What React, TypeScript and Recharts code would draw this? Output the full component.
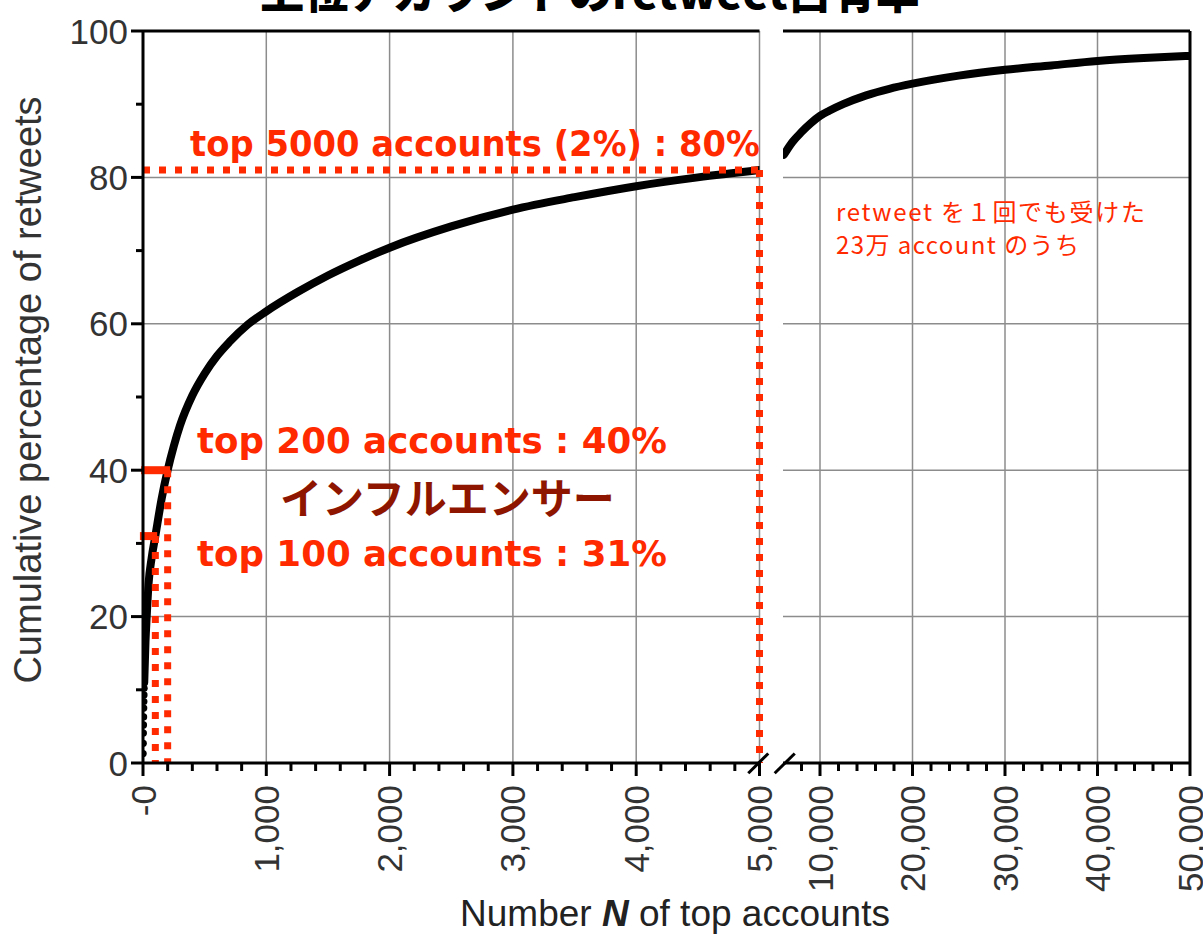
import { ComposedChart, Line, Scatter, XAxis, YAxis, ReferenceLine } from "recharts";

// left panel (0 - 5,000 accounts)
const leftN = [10, 20, 30, 45, 70, 100, 150, 200, 250, 300, 400, 500, 600, 700, 850, 1000, 1250, 1500, 1750, 2000, 2500, 3000, 3500, 4000, 4500, 5000];
const leftPct = [11, 16.5, 20, 24.5, 28, 31, 36, 40, 43.3, 46.1, 50.2, 53.2, 55.6, 57.5, 59.9, 61.7, 64.3, 66.6, 68.6, 70.4, 73.3, 75.6, 77.3, 78.8, 80, 81];

// top few accounts drawn as separate dots
const dotN = [1, 2, 3, 4, 5, 6, 7, 8, 9];
const dotPct = [1.3, 2.7, 4.1, 5.2, 6.3, 7.5, 8.4, 9.3, 10.2];

// right panel (6,000 - 50,000 accounts)
const rightN = [6100, 7000, 8000, 9000, 10000, 11000, 12500, 15000, 17500, 20000, 25000, 30000, 35000, 40000, 45000, 50000];
const rightPct = [83.1, 84.8, 86.2, 87.4, 88.4, 89.1, 90, 91.2, 92.1, 92.8, 93.9, 94.7, 95.3, 95.9, 96.3, 96.6];

const leftTicks = Array.from({ length: 26 }, (_, i) => i * 200);
const rightTicks = Array.from({ length: 22 }, (_, i) => 8000 + i * 2000);
const yTicks = [0, 10, 20, 30, 40, 50, 60, 70, 80, 90, 100];
const yGrid = [20, 40, 60, 80];
const leftGrid = [1000, 2000, 3000, 4000, 5000];
const rightGrid = [10000, 20000, 30000, 40000];

const leftData = leftN.map((n, i) => ({ n, pct: leftPct[i] }));
const dotData = dotN.map((n, i) => ({ n, pct: dotPct[i] }));
const rightData = rightN.map((n, i) => ({ n, pct: rightPct[i] }));

const RED = "#ff2a00";
const GRID = "#8c8c8c";
const TICK_FONT = "'Liberation Sans', Arial, sans-serif";
const JP_FONT = "'Noto Sans CJK JP', sans-serif";
const NOTE_FONT = "'DejaVu Sans', sans-serif";

function XTick(props: any) {
  const { x, y, payload, step } = props;
  const major = payload.value % step === 0;
  const ly = y + 22;
  const label = payload.value === 0 ? "-0" : payload.value.toLocaleString("en-US");
  return (
    <g>
      <line x1={x} y1={y} x2={x} y2={y + (major ? 13 : 8)} stroke="#000" strokeWidth={3} />
      {major && (
        <text
          x={x}
          y={ly}
          transform={`rotate(-90 ${x} ${ly})`}
          textAnchor="end"
          dy="0.36em"
          fontSize={35}
          fontFamily={TICK_FONT}
          fill="#333"
        >
          {label}
        </text>
      )}
    </g>
  );
}

function YTick(props: any) {
  const { x, y, payload } = props;
  const major = payload.value % 20 === 0;
  return (
    <g>
      <line x1={x - (major ? 12 : 7)} y1={y} x2={x} y2={y} stroke="#000" strokeWidth={3} />
      {major && (
        <text x={x - 15} y={y} textAnchor="end" dy="0.36em" fontSize={35} fontFamily={TICK_FONT} fill="#333">
          {payload.value}
        </text>
      )}
    </g>
  );
}

const dotted = { stroke: RED, strokeWidth: 7, strokeDasharray: "7 9", ifOverflow: "visible" as const };

export default function App() {
  return (
    <div style={{ position: "absolute", left: 0, top: 0, width: 1203, height: 938, background: "#fff", overflow: "hidden" }}>
      <div style={{ position: "absolute", left: 0, top: 0 }}>
        <ComposedChart width={780} height={938} margin={{ top: 31, right: 20.5, bottom: 55, left: 0 }}>
          <XAxis
            type="number"
            dataKey="n"
            domain={[0, 5000]}
            ticks={leftTicks}
            height={120}
            tickSize={0}
            tickMargin={0}
            tickLine={false}
            axisLine={{ stroke: "#000", strokeWidth: 3 }}
            tick={<XTick step={1000} />}
            interval={0}
            allowDataOverflow
          />
          <YAxis
            type="number"
            domain={[0, 100]}
            ticks={yTicks}
            width={143}
            tickSize={0}
            tickMargin={0}
            tickLine={false}
            axisLine={{ stroke: "#000", strokeWidth: 3 }}
            tick={<YTick />}
            interval={0}
          />
          {yGrid.map((v) => (
            <ReferenceLine key={`hy${v}`} y={v} stroke={GRID} strokeWidth={1.5} />
          ))}
          {leftGrid.map((v) => (
            <ReferenceLine key={`vx${v}`} x={v} stroke={GRID} strokeWidth={1.5} />
          ))}
          <ReferenceLine y={100} stroke="#000" strokeWidth={3} ifOverflow="visible" />
          <Line
            data={leftData}
            dataKey="pct"
            type="monotone"
            stroke="#000"
            strokeWidth={8}
            strokeLinecap="round"
            dot={false}
            isAnimationActive={false}
          />
          <Scatter
            data={dotData}
            dataKey="pct"
            fill="#000"
            shape={(p: any) => <circle cx={p.cx} cy={p.cy} r={3.6} fill="#000" />}
            isAnimationActive={false}
          />
          <ReferenceLine segment={[{ x: 0, y: 81 }, { x: 5000, y: 81 }]} {...dotted} />
          <ReferenceLine segment={[{ x: 5000, y: 81 }, { x: 5000, y: 0 }]} {...dotted} />
          <ReferenceLine segment={[{ x: 200, y: 40 }, { x: 200, y: 0 }]} {...dotted} />
          <ReferenceLine segment={[{ x: 100, y: 31 }, { x: 100, y: 0 }]} {...dotted} />
          <ReferenceLine segment={[{ x: -15, y: 40 }, { x: 220, y: 40 }]} stroke={RED} strokeWidth={8} ifOverflow="visible" />
          <ReferenceLine segment={[{ x: -25, y: 31 }, { x: 115, y: 31 }]} stroke={RED} strokeWidth={8} ifOverflow="visible" />
          <ReferenceLine segment={[{ x: 4909, y: -1.4 }, { x: 5071, y: 1.3 }]} stroke="#000" strokeWidth={3} ifOverflow="visible" />
        </ComposedChart>
      </div>

      <div style={{ position: "absolute", left: 0, top: 0 }}>
        <ComposedChart width={1203} height={938} margin={{ top: 31, right: 13, bottom: 55, left: 783 }}>
          <XAxis
            type="number"
            dataKey="n"
            domain={[6000, 50000]}
            ticks={rightTicks}
            height={120}
            tickSize={0}
            tickMargin={0}
            tickLine={false}
            axisLine={{ stroke: "#000", strokeWidth: 3 }}
            tick={<XTick step={10000} />}
            interval={0}
            allowDataOverflow
          />
          <YAxis type="number" domain={[0, 100]} hide />
          {yGrid.map((v) => (
            <ReferenceLine key={`rhy${v}`} y={v} stroke={GRID} strokeWidth={1.5} />
          ))}
          {rightGrid.map((v) => (
            <ReferenceLine key={`rvx${v}`} x={v} stroke={GRID} strokeWidth={1.5} />
          ))}
          <ReferenceLine y={100} stroke="#000" strokeWidth={3} ifOverflow="visible" />
          <ReferenceLine x={50000} stroke="#000" strokeWidth={3} ifOverflow="visible" />
          <Line
            data={rightData}
            dataKey="pct"
            type="monotone"
            stroke="#000"
            strokeWidth={8}
            strokeLinecap="round"
            dot={false}
            isAnimationActive={false}
          />
          <ReferenceLine segment={[{ x: 5100, y: -1.4 }, { x: 7270, y: 1.3 }]} stroke="#000" strokeWidth={3} ifOverflow="visible" />
        </ComposedChart>
      </div>

      <svg width={1203} height={938} style={{ position: "absolute", left: 0, top: 0, pointerEvents: "none" }}>
        <text x={590} y={9} textAnchor="middle" fontSize={44} fontWeight={900} fontFamily={JP_FONT} fill="#000">
          上位アカウントのretweet占有率
        </text>
        <text
          x={27}
          y={390}
          transform="rotate(-90 27 390)"
          textAnchor="middle"
          dy="0.36em"
          fontSize={38}
          fontFamily={TICK_FONT}
          fill="#333"
        >
          Cumulative percentage of retweets
        </text>
        <text x={675} y={926} textAnchor="middle" fontSize={37} fontFamily={TICK_FONT} fill="#222">
          Number <tspan fontWeight="bold" fontStyle="italic">N</tspan> of top accounts
        </text>
        <g fontFamily={NOTE_FONT} fontWeight={700} fontSize={35} fill={RED}>
          <text x={190} y={156} textLength={570} lengthAdjust="spacingAndGlyphs">top 5000 accounts (2%) : 80%</text>
          <text x={197} y={453} textLength={470} lengthAdjust="spacingAndGlyphs">top 200 accounts : 40%</text>
          <text x={197} y={566} textLength={470} lengthAdjust="spacingAndGlyphs">top 100 accounts : 31%</text>
        </g>
        <text x={280} y={514} fontSize={42} fontWeight={700} fontFamily={JP_FONT} fill="#8e1600">
          インフルエンサー
        </text>
        <g fontFamily={JP_FONT} fontSize={24} fill={RED}>
          <text x={836} y={221} textLength={309} lengthAdjust="spacing">retweet を１回でも受けた</text>
          <text x={836} y={254} textLength={243} lengthAdjust="spacing">23万 account のうち</text>
        </g>
      </svg>
    </div>
  );
}
